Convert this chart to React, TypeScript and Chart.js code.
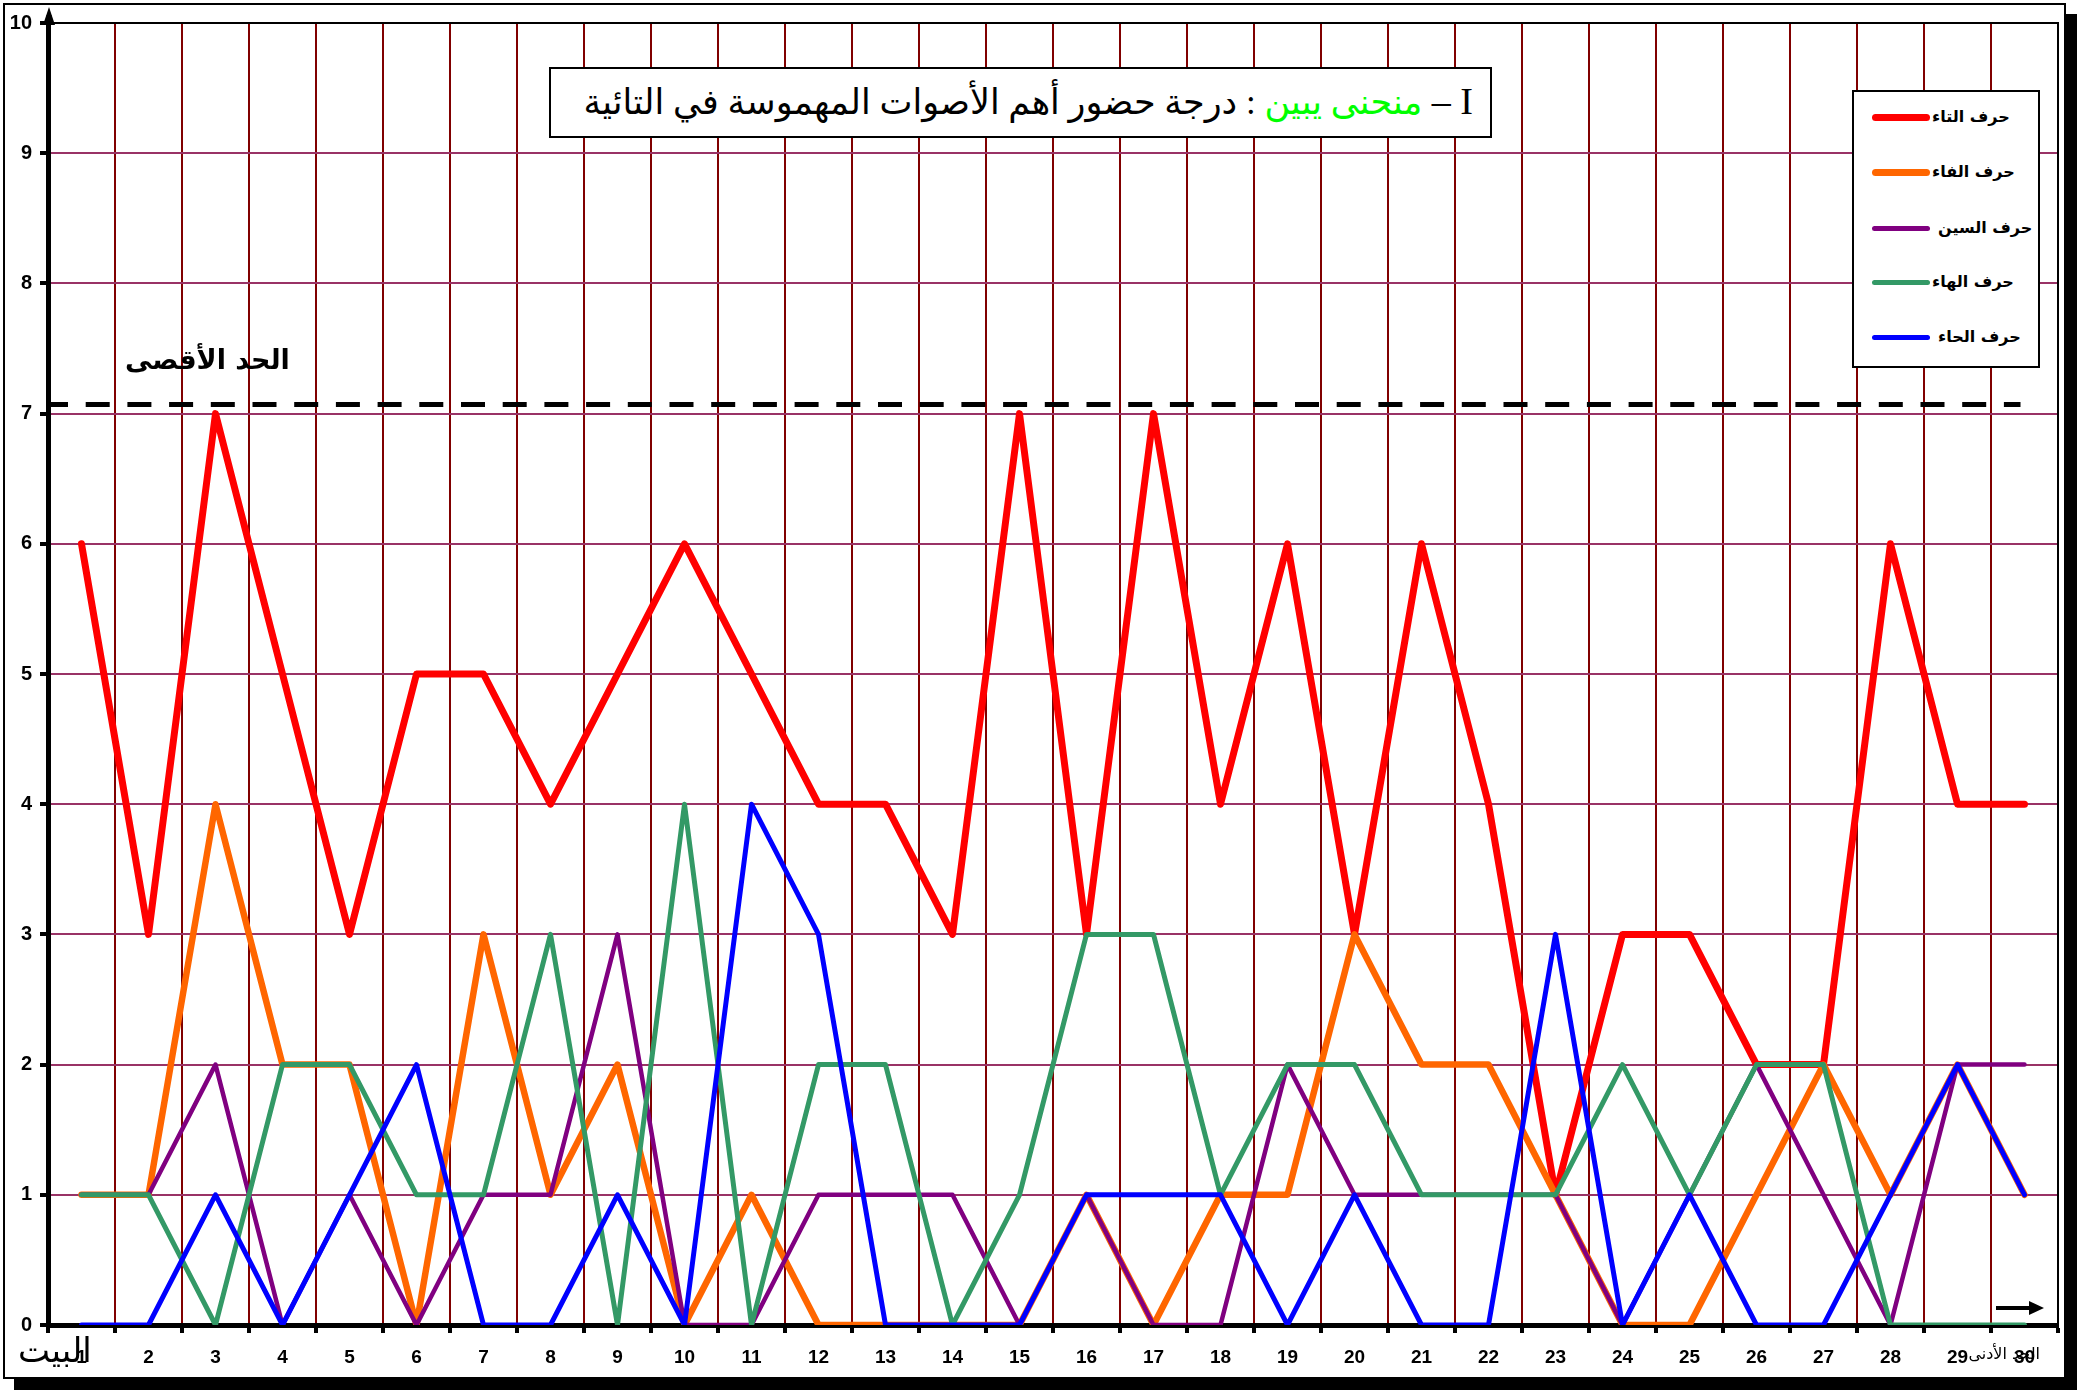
import React, { useEffect, useRef } from 'react';
import { Chart, registerables } from 'chart.js';

Chart.register(...registerables);

// ---- data ----
const VERSES = ['1','2','3','4','5','6','7','8','9','10','11','12','13','14','15','16','17','18','19','20','21','22','23','24','25','26','27','28','29','30'];
const TAA = [6,3,7,5,3,5,5,4,5,6,5,4,4,3,7,3,7,4,6,3,6,4,1,3,3,2,2,6,4,4];
const FAA = [1,1,4,2,2,0,3,1,2,0,1,0,0,0,0,1,0,1,1,3,2,2,1,0,0,1,2,1,2,1];
const SIN = [1,1,2,0,1,0,1,1,3,0,0,1,1,1,0,1,0,0,2,1,1,1,1,0,1,2,1,0,2,2];
const HAA = [1,1,0,2,2,1,1,3,0,4,0,2,2,0,1,3,3,1,2,2,1,1,1,2,1,2,2,0,0,0];
const HHAA = [0,0,1,0,1,2,0,0,1,0,4,3,0,0,0,1,1,1,0,1,0,0,3,0,1,0,0,1,2,1];
const SERIES_NAMES = ['حرف التاء', 'حرف الفاء', 'حرف السين', 'حرف الهاء', 'حرف الحاء'];
const SERIES_COLORS = ['#ff0000', '#ff6600', '#800080', '#339966', '#0000ff'];
const SERIES_WIDTHS = [7, 6.5, 4.5, 5, 5];
const Y_MIN = 0;
const Y_MAX = 10;
const MAX_LIMIT = 7.07;
const TITLE_PREFIX = 'I – ';
const TITLE_GREEN = 'منحنى يبين';
const TITLE_REST = ' : درجة حضور أهم الأصوات المهموسة في التائية';
const MAX_LABEL = 'الحد الأقصى';
const MIN_LABEL = 'الحد الأدنى';
const X_TITLE = 'البيت';

const SERIES = [TAA, FAA, SIN, HAA, HHAA];

const extrasPlugin = {
  id: 'extras',
  beforeDatasetsDraw(chart: any) {
    const { ctx, chartArea: a } = chart;
    ctx.save();
    ctx.strokeStyle = '#000';
    ctx.lineWidth = 2;
    ctx.beginPath();
    ctx.moveTo(a.left, a.top);
    ctx.lineTo(a.right, a.top);
    ctx.lineTo(a.right, a.bottom);
    ctx.stroke();
    ctx.restore();
  },
  afterDatasetsDraw(chart: any) {
    const { ctx, chartArea: a } = chart;
    const ys = chart.scales.y;
    const xs = chart.scales.x;
    ctx.save();
    // dashed maximum line
    const yMax = ys.getPixelForValue(MAX_LIMIT);
    const xEnd = xs.getPixelForValue(VERSES.length - 1) - 4;
    ctx.strokeStyle = '#000';
    ctx.lineWidth = 5;
    ctx.setLineDash([24, 17.7]);
    ctx.lineDashOffset = 4;
    ctx.beginPath();
    ctx.moveTo(a.left, yMax);
    ctx.lineTo(xEnd, yMax);
    ctx.stroke();
    ctx.setLineDash([]);
    // y axis arrow
    const ax = a.left + 1;
    ctx.lineWidth = 5;
    ctx.beginPath();
    ctx.moveTo(ax, a.top);
    ctx.lineTo(ax, a.top - 8);
    ctx.stroke();
    ctx.fillStyle = '#000';
    ctx.beginPath();
    ctx.moveTo(ax, a.top - 16);
    ctx.lineTo(ax - 6, a.top + 2);
    ctx.lineTo(ax + 6, a.top + 2);
    ctx.closePath();
    ctx.fill();
    // x direction arrow
    const arY = a.bottom - 17;
    const arR = a.right - 14;
    ctx.lineWidth = 4;
    ctx.beginPath();
    ctx.moveTo(arR - 48, arY);
    ctx.lineTo(arR - 12, arY);
    ctx.stroke();
    ctx.beginPath();
    ctx.moveTo(arR, arY);
    ctx.lineTo(arR - 15, arY - 7);
    ctx.lineTo(arR - 15, arY + 7);
    ctx.closePath();
    ctx.fill();
    ctx.restore();
  },
};

function ChartCanvas() {
  const ref = useRef<HTMLCanvasElement | null>(null);
  useEffect(() => {
    if (!ref.current) return;
    const tickFont = { family: '"Liberation Sans", Arial, sans-serif', weight: 'bold' as const, size: 19 };
    const chart = new Chart(ref.current, {
      type: 'line',
      data: {
        labels: VERSES,
        datasets: SERIES.map((d, i) => ({
          label: SERIES_NAMES[i],
          data: d,
          borderColor: SERIES_COLORS[i],
          backgroundColor: SERIES_COLORS[i],
          borderWidth: SERIES_WIDTHS[i],
          pointRadius: 0,
          tension: 0,
          fill: false,
          borderJoinStyle: 'round' as const,
          borderCapStyle: 'round' as const,
          order: SERIES.length - i,
        })),
      },
      options: {
        responsive: false,
        animation: false,
        devicePixelRatio: 1,
        layout: { padding: { top: 23, right: 20, left: 0, bottom: 0 } },
        plugins: { legend: { display: false }, tooltip: { enabled: false }, title: { display: false } },
        scales: {
          x: {
            type: 'category',
            offset: true,
            grid: { offset: true, color: '#800000', lineWidth: 2, tickColor: '#000', tickLength: 8, tickWidth: 4 },
            border: { color: '#000', width: 5 },
            ticks: { font: tickFont, color: '#000', padding: 13, maxRotation: 0, autoSkip: false },
            afterFit: (s: any) => { s.height = 65; },
          },
          y: {
            min: Y_MIN,
            max: Y_MAX,
            grid: { color: '#993366', lineWidth: 2, tickColor: '#000', tickLength: 8, tickWidth: 4 },
            border: { color: '#000', width: 5 },
            ticks: { stepSize: 1, font: { ...tickFont, size: 20 }, color: '#000', padding: 8 },
            afterFit: (s: any) => { s.width = 48; },
          },
        },
      },
      plugins: [extrasPlugin],
    });
    return () => chart.destroy();
  }, []);
  return <canvas ref={ref} width={2078} height={1390} style={{ position: 'absolute', left: 0, top: 0, width: 2078, height: 1390 }} />;
}

export default function App() {
  const arabic = '"DejaVu Sans", "Liberation Sans", sans-serif';
  return (
    <div style={{ position: 'absolute', left: 0, top: 0, width: 2078, height: 1390, background: '#fff', overflow: 'hidden' }}>
      <div style={{ position: 'absolute', left: 3, top: 3, width: 2063, height: 1376, boxSizing: 'border-box', border: '2px solid #000', boxShadow: '11px 11px 0 0 #000', background: '#fff' }} />
      <ChartCanvas />
      {/* title */}
      <div dir="rtl" style={{ position: 'absolute', left: 549, top: 67, width: 943, height: 71, boxSizing: 'border-box', border: '2px solid #000', background: '#fff', paddingRight: 17, fontFamily: '"Liberation Serif", "DejaVu Sans", serif', fontSize: 35, lineHeight: '64px', whiteSpace: 'nowrap', color: '#000', textAlign: 'right' }}>
        <span style={{ fontSize: 38 }}>{TITLE_PREFIX}</span><span style={{ color: '#00ff00' }}>{TITLE_GREEN}</span>{TITLE_REST}
      </div>
      {/* legend */}
      <div style={{ position: 'absolute', left: 1852, top: 90, width: 188, height: 278, boxSizing: 'border-box', border: '2px solid #000', background: '#fff' }}>
        {SERIES_NAMES.map((name, i) => {
          const cy = [25, 80, 136, 190, 245][i];
          const lw = i < 2 ? 7 : 5;
          return (
            <React.Fragment key={name}>
              <div style={{ position: 'absolute', left: 18, top: cy - lw / 2, width: 58, height: lw, borderRadius: lw / 2, background: SERIES_COLORS[i] }} />
              <div dir="rtl" style={{ position: 'absolute', left: 78 + (i === 2 || i === 4 ? 6 : 0), top: cy - 13, fontFamily: arabic, fontWeight: 'bold', fontSize: 16, lineHeight: '26px', whiteSpace: 'nowrap', color: '#000' }}>{name}</div>
            </React.Fragment>
          );
        })}
      </div>
      {/* max label */}
      <div dir="rtl" style={{ position: 'absolute', left: 125, top: 338, fontFamily: arabic, fontWeight: 'bold', fontSize: 27, lineHeight: '44px', whiteSpace: 'nowrap', color: '#000' }}>{MAX_LABEL}</div>
      {/* x axis title */}
      <div dir="rtl" style={{ position: 'absolute', left: 18, top: 1326, fontFamily: arabic, fontSize: 34, lineHeight: '48px', whiteSpace: 'nowrap', color: '#000' }}>{X_TITLE}</div>
      {/* min label */}
      <div dir="rtl" style={{ position: 'absolute', right: 2078 - 2040, top: 1342, fontFamily: arabic, fontSize: 16, lineHeight: '24px', whiteSpace: 'nowrap', color: '#000' }}>{MIN_LABEL}</div>
    </div>
  );
}
